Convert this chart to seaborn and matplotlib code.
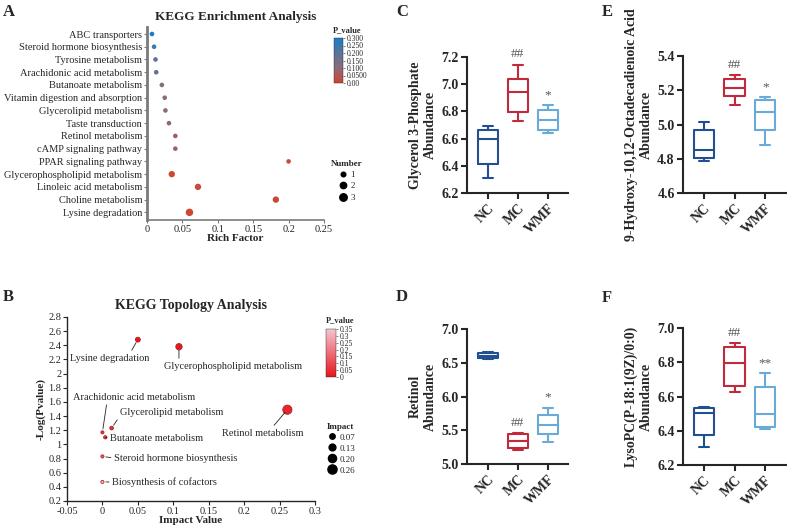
import numpy as np
import pandas as pd
import matplotlib
matplotlib.use("Agg")
import matplotlib.pyplot as plt
import seaborn as sns
from matplotlib.colors import LinearSegmentedColormap, Normalize
from matplotlib.cm import ScalarMappable
from matplotlib.lines import Line2D

# ---- A: KEGG enrichment ----
enrich_pathways = ["ABC transporters", "Steroid hormone biosynthesis", "Tyrosine metabolism",
                   "Arachidonic acid metabolism", "Butanoate metabolism",
                   "Vitamin digestion and absorption", "Glycerolipid metabolism",
                   "Taste transduction", "Retinol metabolism", "cAMP signaling pathway",
                   "PPAR signaling pathway", "Glycerophospholipid metabolism",
                   "Linoleic acid metabolism", "Choline metabolism", "Lysine degradation"]
enrich_rich = [0.007, 0.010, 0.012, 0.013, 0.021, 0.025, 0.026, 0.031, 0.040, 0.040,
               0.200, 0.035, 0.072, 0.182, 0.060]
enrich_p = [0.30, 0.24, 0.19, 0.18, 0.11, 0.10, 0.10, 0.09, 0.07, 0.07,
            0.02, 0.01, 0.015, 0.01, 0.005]
enrich_num = [1, 1, 1, 1, 1, 1, 1, 1, 1, 1, 1, 2, 2, 2, 3]

# ---- B: KEGG topology ----
topo_pathways = ["Lysine degradation", "Glycerophospholipid metabolism", "Retinol metabolism",
                 "Arachidonic acid metabolism", "Glycerolipid metabolism",
                 "Butanoate metabolism", "Steroid hormone biosynthesis",
                 "Biosynthesis of cofactors"]
topo_impact = [0.050, 0.108, 0.261, 0.0, 0.013, 0.004, 0.0, 0.0]
topo_neglogp = [2.48, 2.38, 1.49, 1.17, 1.23, 1.10, 0.83, 0.47]

# ---- C-F: box plots (min, q1, median, q3, max) ----
groups = ["NC", "MC", "WMF"]
g3p_nc = [6.31, 6.415, 6.595, 6.66, 6.69]
g3p_mc = [6.727, 6.796, 6.94, 7.04, 7.144]
g3p_wmf = [6.64, 6.66, 6.734, 6.81, 6.846]
retinol_nc = [6.55, 6.57, 6.60, 6.64, 6.655]
retinol_mc = [5.21, 5.24, 5.34, 5.45, 5.46]
retinol_wmf = [5.33, 5.44, 5.58, 5.73, 5.83]
hode_nc = [4.785, 4.806, 4.853, 4.966, 5.013]
hode_mc = [5.113, 5.164, 5.214, 5.267, 5.289]
hode_wmf = [4.882, 4.968, 5.072, 5.143, 5.158]
lysopc_nc = [6.307, 6.375, 6.504, 6.531, 6.537]
lysopc_mc = [6.625, 6.662, 6.793, 6.889, 6.912]
lysopc_wmf = [6.411, 6.424, 6.498, 6.658, 6.736]

box_colors = ["#22508f", "#c12a3c", "#6aaad6"]

sns.set_style("ticks")
plt.rcParams["font.family"] = ["Liberation Serif", "DejaVu Sans"]
plt.rcParams["axes.linewidth"] = 1.0

W, H = 787, 526
fig = plt.figure(figsize=(W / 100, H / 100), dpi=100)


def px_axes(l, t, r, b):
    return fig.add_axes([l / W, 1 - b / H, (r - l) / W, (b - t) / H])


def panel_label(x, y, s):
    fig.text(x / W, 1 - y / H, s, fontsize=12, fontweight="bold", ha="left", va="center")


# ================= A =================
ax_a = px_axes(147, 27, 324, 220)
cmap_a = LinearSegmentedColormap.from_list("pa", ["#d2442e", "#8a6b7c", "#5b7398", "#1a7cc6"])
df_a = pd.DataFrame({"pathway": enrich_pathways, "rich": enrich_rich,
                     "p": enrich_p, "num": enrich_num})
sns.scatterplot(data=df_a, x="rich", y="pathway", hue="p", palette=cmap_a, hue_norm=(0, 0.3),
                size="num", sizes={1: 11, 2: 21, 3: 29}, linewidth=0, legend=False, ax=ax_a)
ax_a.set_xlim(0, 0.25)
ax_a.set_ylim(len(enrich_pathways) - 0.4, -0.55)
ax_a.set_xticks([0, 0.05, 0.1, 0.15, 0.2, 0.25])
ax_a.set_xticklabels(["0", "0.05", "0.1", "0.15", "0.2", "0.25"])
ax_a.set_xlabel("Rich Factor", fontsize=8, fontweight="bold", labelpad=0)
ax_a.set_ylabel("")
ax_a.set_title("KEGG Enrichment Analysis", fontsize=9.5, fontweight="bold", pad=5)
for side in ["top", "right"]:
    ax_a.spines[side].set_visible(False)
ax_a.spines["left"].set_color("#7a7a7a")
ax_a.spines["left"].set_linewidth(2)
ax_a.spines["bottom"].set_color("#7a7a7a")
ax_a.spines["bottom"].set_linewidth(1.2)
ax_a.tick_params(axis="y", labelsize=7.5, length=2.5, width=0.8, color="#7a7a7a", pad=1)
ax_a.tick_params(axis="x", labelsize=7.5, length=2.5, width=0.8, color="#7a7a7a", pad=1)

cax_a = px_axes(334, 38, 343, 83)
cb_a = fig.colorbar(ScalarMappable(norm=Normalize(0, 0.3), cmap=cmap_a), cax=cax_a)
cb_a.set_ticks([0, 0.05, 0.1, 0.15, 0.2, 0.25, 0.3])
cb_a.set_ticklabels(["0.00", "0.0500", "0.100", "0.150", "0.200", "0.250", "0.300"])
cb_a.ax.tick_params(labelsize=5.5, length=1.5, width=0.4, pad=1)
cb_a.outline.set_linewidth(0.3)
fig.text(333 / W, 1 - 30 / H, "P_value", fontsize=6, fontweight="bold", va="center")

num_handles = [Line2D([], [], marker="o", ls="", color="black", markersize=np.sqrt(s))
               for s in [11, 21, 29]]
fig.legend(num_handles, ["1", "2", "3"], title="Number", loc="upper left",
           bbox_to_anchor=(326 / W, 1 - 155 / H), frameon=False, fontsize=6.5,
           title_fontproperties={"weight": "bold", "size": 6.5}, handletextpad=0.2,
           labelspacing=0.35, borderpad=0, handlelength=1.2)

# ================= B =================
ax_b = px_axes(67, 317, 315, 501)
cmap_b = LinearSegmentedColormap.from_list("pb", ["#e8141c", "#f4c6d0"])
topo_p = [10 ** (-v) for v in topo_neglogp]
df_b = pd.DataFrame({"pathway": topo_pathways, "impact": topo_impact,
                     "nlp": topo_neglogp, "p": topo_p})
sns.scatterplot(data=df_b, x="impact", y="nlp", hue="p", palette=cmap_b, hue_norm=(0, 0.35),
                size="impact", sizes=(5, 45), size_norm=(0, 0.27), edgecolor="#a82424",
                linewidth=0.6, legend=False, ax=ax_b, zorder=3)
ax_b.set_xlim(-0.05, 0.3)
ax_b.set_ylim(0.2, 2.8)
xt = [-0.05, 0, 0.05, 0.1, 0.15, 0.2, 0.25, 0.3]
ax_b.set_xticks(xt)
ax_b.set_xticklabels(["-0.05", "0", "0.05", "0.1", "0.15", "0.2", "0.25", "0.3"])
yt = np.round(np.arange(0.2, 2.81, 0.2), 1)
ax_b.set_yticks(yt)
ax_b.set_yticklabels([("%g" % v) for v in yt])
ax_b.tick_params(labelsize=7.5, length=3, width=0.8, pad=1)
ax_b.set_xlabel("Impact Value", fontsize=8, fontweight="bold", labelpad=0)
ax_b.set_ylabel("-Log(Pvalue)", fontsize=8, fontweight="bold", labelpad=2)
ax_b.set_title("KEGG Topology Analysis", fontsize=10, fontweight="bold", pad=6)
for side in ["top", "right"]:
    ax_b.spines[side].set_visible(False)

# label placement: text centre (data) and where the leader line leaves the text box
label_place = {
    "Lysine degradation": ((0.0106, 2.22), (0.75, 1.0)),
    "Glycerophospholipid metabolism": ((0.184, 2.107), (0.11, 1.0)),
    "Retinol metabolism": ((0.2268, 1.16), (0.6, 1.0)),
    "Arachidonic acid metabolism": ((0.0444, 1.669), (0.28, 0.0)),
    "Glycerolipid metabolism": ((0.0979, 1.457), (0.0, 0.1)),
    "Butanoate metabolism": ((0.0768, 1.09), (0.0, 0.5)),
    "Steroid hormone biosynthesis": ((0.1035, 0.807), (0.0, 0.5)),
    "Biosynthesis of cofactors": ((0.088, 0.468), (0.0, 0.5)),
}
for name, xv, yv in zip(topo_pathways, topo_impact, topo_neglogp):
    (tx, ty), rel = label_place[name]
    ax_b.annotate(name, xy=(xv, yv), xytext=(tx, ty), ha="center", va="center", fontsize=7.5,
                  arrowprops=dict(arrowstyle="-", lw=0.6, color="#222222", relpos=rel,
                                  shrinkA=0, shrinkB=2.5))

cax_b = px_axes(326, 329, 336, 377)
cb_b = fig.colorbar(ScalarMappable(norm=Normalize(0, 0.35), cmap=cmap_b), cax=cax_b)
cb_b.set_ticks([0, 0.05, 0.1, 0.15, 0.2, 0.25, 0.3, 0.35])
cb_b.set_ticklabels(["0", "0.05", "0.1", "0.15", "0.2", "0.25", "0.3", "0.35"])
cb_b.ax.tick_params(labelsize=5.5, length=1.5, width=0.4, pad=1)
cb_b.outline.set_linewidth(0.3)
fig.text(326 / W, 1 - 320 / H, "P_value", fontsize=6, fontweight="bold", va="center")

imp_levels = [0.07, 0.13, 0.20, 0.26]
imp_handles = [Line2D([], [], marker="o", ls="", color="black",
                      markersize=np.sqrt(5 + 40 * v / 0.27)) for v in imp_levels]
fig.legend(imp_handles, ["%.2f" % v for v in imp_levels], title="Impact", loc="upper left",
           bbox_to_anchor=(322 / W, 1 - 418 / H), frameon=False, fontsize=6.5,
           title_fontproperties={"weight": "bold", "size": 6.5}, handletextpad=0.2,
           labelspacing=0.3, borderpad=0, handlelength=1.2)


# ================= C-F =================
def draw_box(ax, nc, mc, wmf, ylabel, ylim, yticks, marks):
    df = pd.DataFrame({"group": np.repeat(groups, 5), "value": nc + mc + wmf})
    sns.boxplot(data=df, x="group", y="value", hue="group", palette=box_colors, fill=False,
                width=0.67, whis=(0, 100), linewidth=1.5, legend=False, ax=ax)
    ax.set_xlim(-0.69, 2.68)
    ax.set_ylim(*ylim)
    ax.set_yticks(yticks)
    ax.set_yticklabels(["%.1f" % v for v in yticks], fontweight="bold")
    ax.set_xticks([0, 1, 2])
    ax.set_xticklabels(groups, rotation=45, ha="right", va="top", rotation_mode="anchor",
                       fontweight="bold")
    ax.tick_params(labelsize=10, length=4, width=1.5, pad=2)
    ax.set_xlabel("")
    ax.set_ylabel(ylabel, fontsize=10, fontweight="bold", labelpad=3)
    for side in ["top", "right"]:
        ax.spines[side].set_visible(False)
    for side in ["left", "bottom"]:
        ax.spines[side].set_linewidth(1.5)
    for i, (vals, m) in enumerate(zip([nc, mc, wmf], marks)):
        if m:
            ax.annotate(m, xy=(i, max(vals)), xytext=(0, 3), textcoords="offset points",
                        ha="center", va="bottom", fontsize=9.5, color="#555555")


ax_c = px_axes(467, 57, 568, 193)
draw_box(ax_c, g3p_nc, g3p_mc, g3p_wmf, "Glycerol 3-Phosphate\nAbundance",
         (6.2, 7.2), [6.2, 6.4, 6.6, 6.8, 7.0, 7.2], ["", "##", "*"])
ax_d = px_axes(467, 329, 568, 464)
draw_box(ax_d, retinol_nc, retinol_mc, retinol_wmf, "Retinol\nAbundance",
         (5.0, 7.0), [5.0, 5.5, 6.0, 6.5, 7.0], ["", "##", "*"])
ax_e = px_axes(683, 56, 786, 193)
draw_box(ax_e, hode_nc, hode_mc, hode_wmf, "9-Hydroxy-10,12-Octadecadienoic Acid\nAbundance",
         (4.6, 5.4), [4.6, 4.8, 5.0, 5.2, 5.4], ["", "##", "*"])
ax_f = px_axes(683, 328, 786, 465)
draw_box(ax_f, lysopc_nc, lysopc_mc, lysopc_wmf, "LysoPC(P-18:1(9Z)/0:0)\nAbundance",
         (6.2, 7.0), [6.2, 6.4, 6.6, 6.8, 7.0], ["", "##", "**"])

panel_label(3, 12, "A")
panel_label(3, 297, "B")
panel_label(396, 12, "C")
panel_label(396, 297, "D")
panel_label(602, 12, "E")
panel_label(602, 298, "F")

fig.savefig("out.png", dpi=100)
